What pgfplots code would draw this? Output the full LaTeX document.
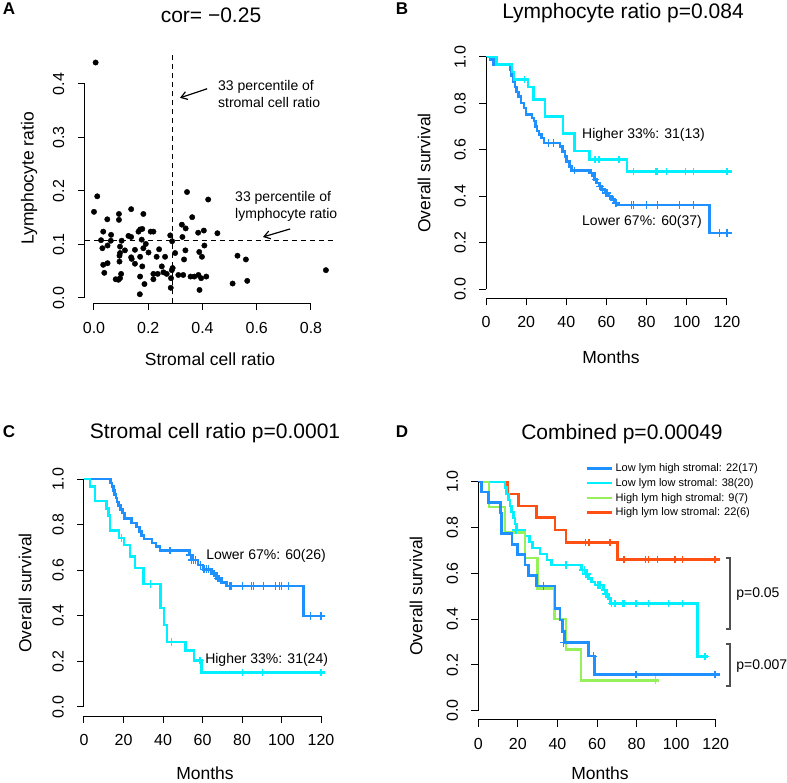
\documentclass[border=0pt]{standalone}
\usepackage{fontspec}
\setmainfont{Liberation Sans}
\usepackage{pgfplots}
\pgfplotsset{compat=1.18}
\usetikzlibrary{arrows.meta}
\definecolor{kmblue}{RGB}{30,144,255}
\definecolor{kmcyan}{RGB}{0,240,255}
\definecolor{kmgreen}{RGB}{150,240,90}
\definecolor{kmorange}{RGB}{255,80,20}
\definecolor{brk}{RGB}{80,80,80}
\newcommand{\fs}[1]{\fontsize{#1pt}{#1pt}\selectfont}
\pgfplotsset{
  rbase/.style={
    scale only axis, clip=false,
    axis line style={draw=none},
    xtick pos=left, ytick pos=left, tick align=outside,
    major tick length=7pt,
    tick style={black, line width=1pt},
    /pgf/number format/assume math mode=true,
    tick label style={font=\fs{16}},
    xticklabel style={yshift=-8pt},
    yticklabel style={rotate=90, anchor=south, inner ysep=13pt,
      /pgf/number format/fixed, /pgf/number format/fixed zerofill, /pgf/number format/precision=1},
  },
  km/.style={rbase, xmin=0, xmax=125, ymin=-0.04, ymax=1.04,
    xtick={0,20,40,60,80,100,120}, ytick={0,0.2,0.4,0.6,0.8,1}},
  kml/.style={line width=2.5pt, const plot, forget plot},
  cens/.style={only marks, mark=+, mark size=3.8pt, line width=1.3pt, forget plot},
}
\begin{document}
\begin{tikzpicture}
\path[use as bounding box] (0,0) rectangle (787pt,783pt);

% ---------------- Panel A ----------------
\begin{axis}[rbase, at={(84.5pt,479.5pt)}, anchor=south west,
  width=250.9pt, height=250.2pt,
  xmin=-0.035, xmax=0.89, ymin=-0.0103, ymax=0.4573,
  xtick={0,0.2,0.4,0.6,0.8}, ytick={0,0.1,0.2,0.3,0.4},
  xticklabel style={/pgf/number format/fixed, /pgf/number format/fixed zerofill, /pgf/number format/precision=1}]
\addplot[only marks, mark=*, mark size=2.7pt, black] coordinates {
(0.006,0.440) (0.012,0.190) (0.000,0.161) (0.343,0.198) (0.421,0.184)
(0.362,0.151) (0.324,0.137) (0.338,0.130) (0.281,0.117) (0.288,0.106)
(0.326,0.114) (0.384,0.122) (0.405,0.126) (0.455,0.121) (0.407,0.098)
(0.337,0.089) (0.388,0.086) (0.398,0.077) (0.299,0.084) (0.332,0.072)
(0.529,0.079) (0.560,0.072) (0.855,0.052) (0.511,0.027) (0.565,0.032)
(0.389,0.015) (0.283,0.019) (0.169,0.007) (0.290,0.056) (0.287,0.052)
(0.311,0.043) (0.329,0.043) (0.356,0.040) (0.370,0.040) (0.385,0.043)
(0.395,0.037) (0.414,0.040) (0.284,0.037)
(0.049,0.147) (0.092,0.157) (0.092,0.146) (0.137,0.166) (0.182,0.157)
(0.034,0.124) (0.063,0.118) (0.127,0.116) (0.137,0.114) (0.164,0.124)
(0.170,0.128) (0.178,0.129) (0.209,0.124) (0.219,0.124) (0.026,0.108)
(0.062,0.107) (0.102,0.107) (0.176,0.109) (0.031,0.093) (0.050,0.098)
(0.096,0.096) (0.114,0.089) (0.151,0.090) (0.182,0.093) (0.191,0.101)
(0.201,0.085) (0.240,0.091) (0.096,0.084) (0.094,0.079) (0.137,0.076)
(0.139,0.073) (0.170,0.077) (0.231,0.077) (0.262,0.077) (0.034,0.062)
(0.050,0.065) (0.094,0.068) (0.151,0.064) (0.178,0.059) (0.250,0.059)
(0.038,0.047) (0.080,0.035) (0.090,0.034) (0.096,0.037) (0.100,0.045)
(0.170,0.040) (0.219,0.045) (0.235,0.045) (0.256,0.048) (0.268,0.045)
(0.219,0.035) (0.186,0.026)
};
\addplot[black, line width=1pt, dash pattern=on 5pt off 4pt, forget plot] coordinates {(0.289,-0.0103) (0.289,0.4573)};
\addplot[black, line width=1pt, dash pattern=on 5pt off 4pt, forget plot] coordinates {(-0.035,0.107) (0.89,0.107)};
\draw[line width=1pt] (axis cs:0,-0.0103) -- (axis cs:0.8,-0.0103);
\draw[line width=1pt] (axis cs:-0.035,0) -- (axis cs:-0.035,0.4);
\node[anchor=west, align=left, inner sep=0pt, font=\fontsize{14pt}{17pt}\selectfont] at (axis cs:0.457,0.382) {33 percentile of\\stromal cell ratio};
\node[anchor=west, align=left, inner sep=0pt, font=\fontsize{14pt}{17pt}\selectfont] at (axis cs:0.520,0.171) {33 percentile of\\lymphocyte ratio};
\draw[line width=1.2pt, -{Straight Barb[length=6pt, width=8pt]}] (axis cs:0.417,0.391) -- (axis cs:0.317,0.374);
\draw[line width=1.2pt, -{Straight Barb[length=6pt, width=8pt]}] (axis cs:0.723,0.129) -- (axis cs:0.623,0.114);
\end{axis}

% ---------------- Panel B ----------------
\begin{axis}[km, at={(486pt,484.7pt)}, anchor=south west, width=251pt, height=250.6pt]
\addplot[kml, kmblue] coordinates {
(0,1) (2,0.989) (3.7,0.967) (12,0.945) (12.8,0.917) (13.6,0.895) (14.5,0.871)
(15.3,0.848) (16.1,0.830) (17.5,0.802) (19,0.780) (20,0.751) (22.8,0.737)
(23.8,0.723) (24.6,0.701) (25.4,0.680) (26.3,0.665) (27.7,0.651) (28.8,0.629)
(36.9,0.615) (38.2,0.593) (39.4,0.572) (40.2,0.550) (41.5,0.529) (42.7,0.511)
(51.8,0.500) (53,0.489) (54,0.471) (55.2,0.457) (56.5,0.443) (57.6,0.428)
(59.3,0.414) (61,0.400) (62.6,0.385) (64.3,0.371) (65.9,0.362) (111.3,0.241) (122.4,0.241)
};
\addplot[cens, kmblue] coordinates {
(31.1,0.629) (33.6,0.629) (43.9,0.511) (52.7,0.500) (54.5,0.471) (56.8,0.443)
(58.1,0.428) (59.8,0.414) (60.5,0.414) (61.5,0.400) (63.5,0.385) (64.8,0.371)
(72.3,0.362) (73.4,0.362) (80.1,0.362) (85.5,0.362) (96.3,0.362) (103.3,0.362)
(116.3,0.241) (120,0.241)
};
\addplot[kml, kmcyan] coordinates {
(0,1) (5.3,0.968) (13,0.935) (14,0.903) (21,0.870) (23.6,0.817) (29.4,0.744)
(38.3,0.670) (44,0.595) (51.5,0.558) (70.1,0.507) (122.4,0.507)
};
\addplot[cens, kmcyan] coordinates {
(19.2,0.903) (54.3,0.558) (56.3,0.558) (66.3,0.558) (73.4,0.507) (84.7,0.507)
(85.5,0.507) (90,0.507) (99.3,0.507) (103.3,0.507) (120,0.507)
};
\draw[line width=1pt] (axis cs:0,-0.04) -- (axis cs:120,-0.04);
\draw[line width=1pt] (axis cs:0,0) -- (axis cs:0,1);
\node[anchor=west, inner sep=0pt, font=\fs{14}] at (axis cs:47.8,0.664) {Higher 33\%: 31(13)};
\node[anchor=west, inner sep=0pt, font=\fs{14}] at (axis cs:47.8,0.289) {Lower 67\%: 60(37)};
\end{axis}

% ---------------- Panel C ----------------
\begin{axis}[km, at={(84pt,66.9pt)}, anchor=south west, width=246.9pt, height=246.2pt]
\addplot[kml, kmblue] coordinates {
(0,1) (13.5,0.983) (14.3,0.967) (14.9,0.950) (15.5,0.933) (16.2,0.917) (16.8,0.900)
(17.4,0.883) (18.6,0.867) (19.6,0.850) (20.4,0.827) (24.1,0.806) (26.5,0.790)
(28,0.769) (29,0.752) (30.5,0.737) (34.3,0.720) (36.5,0.703) (38.5,0.686)
(53.3,0.667) (55.3,0.645) (57.8,0.623) (60.2,0.604) (64.5,0.586) (67.1,0.564)
(69.6,0.545) (72.2,0.531) (111.2,0.399) (122.1,0.399)
};
\addplot[cens, kmblue] coordinates {
(43.5,0.686) (53.8,0.667) (54.5,0.645) (55.3,0.645) (56.5,0.645) (59,0.623)
(60.7,0.604) (62,0.604) (63.2,0.604) (65.8,0.586) (67.5,0.564) (68.3,0.564)
(73.9,0.531) (74.5,0.531) (80.1,0.531) (84.7,0.531) (85.7,0.531) (91,0.531)
(96.9,0.531) (99.1,0.531) (100,0.531) (103.7,0.531) (114.7,0.399) (120,0.399)
};
\addplot[kml, kmcyan] coordinates {
(0,1) (3,0.968) (5.5,0.903) (11.3,0.871) (12.3,0.839) (13.2,0.774) (17.8,0.742)
(20.3,0.710) (23.3,0.660) (25.8,0.609) (30,0.540) (38.8,0.434) (40.5,0.360)
(42,0.286) (51.4,0.247) (55.6,0.204) (59.5,0.152) (122.1,0.152)
};
\addplot[cens, kmcyan] coordinates {
(18.9,0.742) (33.7,0.540) (44.2,0.286) (58.7,0.204) (80.1,0.152) (90.2,0.152) (120,0.152)
};
\draw[line width=1pt] (axis cs:0,-0.04) -- (axis cs:120,-0.04);
\draw[line width=1pt] (axis cs:0,0) -- (axis cs:0,1);
\node[anchor=west, inner sep=0pt, font=\fs{14}] at (axis cs:61.8,0.662) {Lower 67\%: 60(26)};
\node[anchor=west, inner sep=0pt, font=\fs{14}] at (axis cs:61.3,0.206) {Higher 33\%: 31(24)};
\end{axis}

% ---------------- Panel D ----------------
\begin{axis}[km, at={(478.3pt,63.1pt)}, anchor=south west, width=247.3pt, height=247.3pt,
  legend style={draw=none, fill=none, at={(axis cs:54.4,1.088)}, anchor=north west,
    inner sep=0pt, font=\fs{11}, row sep=1.2pt, cells={anchor=west}},
  legend image code/.code={\draw[#1] (0pt,0pt) -- (25pt,0pt);}]
\addlegendimage{kmblue, line width=2.5pt}
\addlegendimage{kmcyan, line width=2.5pt}
\addlegendimage{kmgreen, line width=2.5pt}
\addlegendimage{kmorange, line width=2.5pt}
\addplot[kml, kmorange] coordinates {
(0,1) (14.8,0.946) (20.2,0.894) (29.5,0.843) (38.8,0.789) (44.2,0.735) (70.3,0.661) (122.1,0.661)
};
\addplot[cens, kmorange] coordinates {
(54.3,0.735) (56,0.735) (66.6,0.735) (73.7,0.661) (84.6,0.661) (86,0.661)
(90.5,0.661) (99,0.661) (99.7,0.661) (103.3,0.661) (119.7,0.661)
};
\addplot[kml, kmcyan] coordinates {
(0,1) (13.5,0.974) (14.3,0.947) (15.2,0.921) (16,0.895) (16.8,0.868) (17.7,0.842)
(18.5,0.816) (19.4,0.789) (23.6,0.763) (26,0.737) (27.5,0.711) (31.2,0.684)
(34.6,0.658) (37.1,0.636) (52.2,0.614) (53.9,0.597) (55.6,0.578) (57.3,0.563)
(59,0.549) (63.2,0.527) (64.9,0.510) (65.7,0.491) (66.9,0.469) (110.9,0.236) (116.3,0.236)
};
\addplot[cens, kmcyan] coordinates {
(19,0.789) (44.3,0.636) (52.8,0.614) (53.5,0.614) (54.3,0.597) (55,0.597)
(60.3,0.549) (61,0.549) (61.8,0.549) (63.8,0.527) (64.5,0.510) (67.4,0.469)
(69.1,0.469) (73,0.469) (73.7,0.469) (79.7,0.469) (86,0.469) (96.1,0.469)
(103.3,0.469) (114.6,0.236)
};
\addplot[kml, kmgreen] coordinates {
(0,1) (5.4,0.889) (13.5,0.778) (23.6,0.667) (30,0.533) (38.4,0.400) (44.2,0.267) (51.9,0.133) (91.5,0.133)
};
\addplot[cens, kmgreen] coordinates {(89.5,0.133)};
\addplot[kml, kmblue] coordinates {
(0,1) (1.7,0.955) (5.1,0.909) (11.3,0.864) (11.8,0.773) (17.1,0.727) (19.9,0.682)
(23.6,0.636) (25.3,0.591) (29.5,0.545) (38.8,0.446) (41.3,0.397) (42.5,0.347)
(43.5,0.297) (55.6,0.238) (58.7,0.159) (122.1,0.159)
};
\addplot[cens, kmblue] coordinates {
(32.9,0.545) (43.2,0.297) (58.1,0.238) (79.7,0.159) (119.7,0.159)
};
\addlegendentry{Low lym high stromal: 22(17)}
\addlegendentry{Low lym low stromal: 38(20)}
\addlegendentry{High lym high stromal: 9(7)}
\addlegendentry{High lym low stromal: 22(6)}
\draw[line width=1pt] (axis cs:0,-0.04) -- (axis cs:120,-0.04);
\draw[line width=1pt] (axis cs:0,0) -- (axis cs:0,1);
\draw[brk, line width=1.8pt] (axis cs:125.2,0.667) -- (axis cs:127.4,0.667) -- (axis cs:127.4,0.357) -- (axis cs:125.2,0.357);
\draw[brk, line width=1.8pt] (axis cs:125.2,0.291) -- (axis cs:127.4,0.291) -- (axis cs:127.4,0.108) -- (axis cs:125.2,0.108);
\node[anchor=west, inner sep=0pt, font=\fs{14}] at (axis cs:130.3,0.510) {p=0.05};
\node[anchor=west, inner sep=0pt, font=\fs{14}] at (axis cs:130.3,0.195) {p=0.007};
\end{axis}

% ---------------- Titles, letters, axis labels ----------------
\node[font=\fs{21}] at (211pt,768pt) {cor= −0.25};
\node[font=\fs{21}] at (623pt,770pt) {Lymphocyte ratio p=0.084};
\node[font=\fs{21}] at (215pt,350pt) {Stromal cell ratio p=0.0001};
\node[font=\fs{21}] at (622pt,349pt) {Combined p=0.00049};
\node[font=\bfseries\fs{17}] at (9pt,774pt) {A};
\node[font=\bfseries\fs{17}] at (402pt,774pt) {B};
\node[font=\bfseries\fs{17}] at (9pt,351pt) {C};
\node[font=\bfseries\fs{17}] at (402pt,351pt) {D};
\node[font=\fs{17.5}, rotate=90] at (29pt,604.6pt) {Lymphocyte ratio};
\node[font=\fs{17.5}] at (210pt,424pt) {Stromal cell ratio};
\node[font=\fs{17.5}, rotate=90] at (424pt,610pt) {Overall survival};
\node[font=\fs{17.5}] at (611pt,426pt) {Months};
\node[font=\fs{17.5}, rotate=90] at (25pt,190pt) {Overall survival};
\node[font=\fs{17.5}, inner sep=0pt] at (205pt,10pt) {Months};
\node[font=\fs{17.5}, rotate=90] at (416pt,187pt) {Overall survival};
\node[font=\fs{17.5}, inner sep=0pt] at (600pt,10pt) {Months};
\end{tikzpicture}
\end{document}
